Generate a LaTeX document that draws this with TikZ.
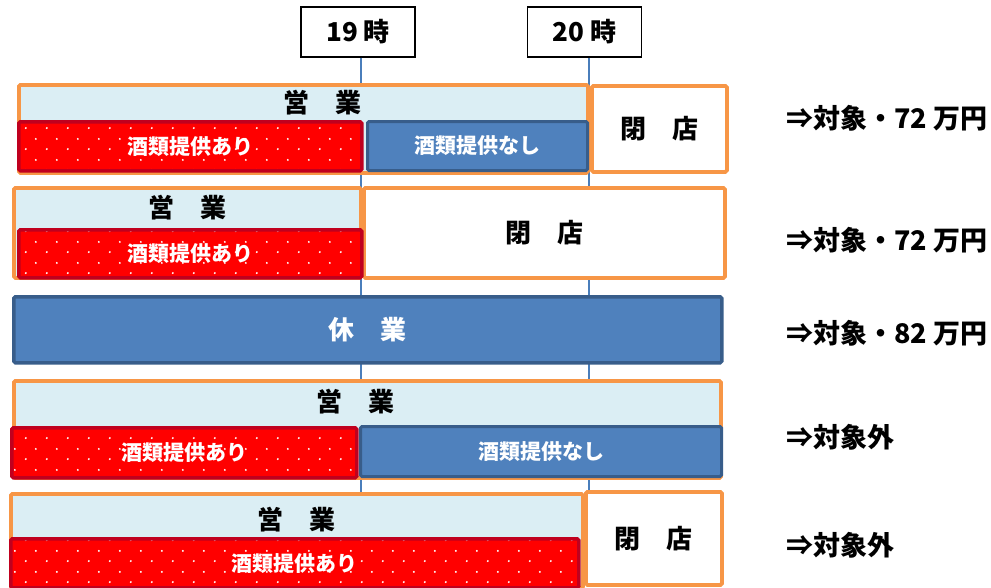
\documentclass[tikz,border=0pt]{standalone}
\usepackage{fontspec}
\setmainfont{Noto Sans CJK JP}
\usetikzlibrary{patterns.meta}
\definecolor{shoporange}{HTML}{F79646}
\definecolor{shopfill}{HTML}{DBEEF4}
\definecolor{winered}{HTML}{FF0000}
\definecolor{wineborder}{HTML}{C0001E}
\definecolor{restblue}{HTML}{4F81BD}
\definecolor{restborder}{HTML}{385D8A}
\definecolor{hourblue}{HTML}{4A7EBB}
\tikzdeclarepattern{
  name = winedots,
  type = uncolored,
  bounding box = {(0pt,0pt) and (21pt,20.6pt)},
  tile size = {(21pt,20.6pt)},
  code = {
    \fill (5pt,5pt) circle (1.1pt);
    \fill (15.5pt,15.3pt) circle (1.1pt);
  }
}
\tikzset{
  bigfont/.style = {font = \bfseries\fontsize{26}{26}\selectfont},
  smallfont/.style = {font = \bfseries\fontsize{21}{21}\selectfont},
  shapebox/.style = {rectangle, anchor = north west, inner sep = 0pt, rounded corners = 1.5pt},
  shopopen/.style = {shapebox, draw = shoporange, fill = shopfill, line width = 3.8pt},
  shopclosed/.style = {shapebox, bigfont, draw = shoporange, fill = white, line width = 3.8pt},
  wineon/.style = {shapebox, smallfont, draw = wineborder, line width = 3.5pt,
    preaction = {fill = winered}, preaction = {pattern = winedots, pattern color = white},
    text = white},
  wineoff/.style = {shapebox, smallfont, draw = restborder, fill = restblue, line width = 3pt, text = white},
  shoprest/.style = {shapebox, bigfont, draw = restborder, fill = restblue, line width = 3.5pt, text = white},
  hour/.style = {rectangle, bigfont, draw, line width = 1.2pt, minimum width = 114pt, minimum height = 50pt},
  hourline/.style = {draw = hourblue, line width = 1.2pt},
  caption/.style = {bigfont, inner sep = 0pt},
  verdict/.style = {font = \bfseries\fontsize{27}{27}\selectfont, anchor = west, inner sep = 0pt},
}
\begin{document}
\begin{tikzpicture}[x = 1pt, y = -1pt]
  \useasboundingbox (0,0) rectangle (991,587);
  % hours
  \node [hour] (t19) at (358,32) {19 時};
  \node [hour] (t20) at (584.5,32) {20 時};
  \coordinate (h19) at (361,587);
  \coordinate (h20) at (589,587);
  \draw [hourline] (t19.south -| h19) -- (h19);
  \draw [hourline] (t20.south -| h20) -- (h20);
  % row 1
  \node [shopopen, minimum width = 569pt, minimum height = 88pt] (open1) at (17,83) {};
  \node [shopclosed, minimum width = 135pt, minimum height = 86pt] (closed1) at (590,84) {閉　店};
  \node [wineon, minimum width = 343pt, minimum height = 49pt] (wine1) at (17,120) {酒類提供あり};
  \node [wineoff, minimum width = 220pt, minimum height = 49pt] (dry1) at (366,120) {酒類提供なし};
  \node [caption] (open1 label) at (322,103) {営　業};
  \node [verdict] (verdict1) at (786,118) {⇒対象・72 万円};
  % row 2
  \node [shopopen, minimum width = 347pt, minimum height = 90pt] (open2) at (12,186) {};
  \node [shopclosed, minimum width = 361pt, minimum height = 90pt] (closed2) at (362,186) {閉　店};
  \node [wineon, minimum width = 343pt, minimum height = 48pt] (wine2) at (17,228) {酒類提供あり};
  \node [caption] (open2 label) at (187,208) {営　業};
  \node [verdict] (verdict2) at (786,240) {⇒対象・72 万円};
  % row 3
  \node [shoprest, minimum width = 708pt, minimum height = 66pt] (rest3) at (12,295) {休　業};
  \node [verdict] (verdict3) at (786,333) {⇒対象・82 万円};
  % row 4
  \node [shopopen, minimum width = 707pt, minimum height = 97pt] (open4) at (12,379) {};
  \node [wineon, minimum width = 345pt, minimum height = 50pt] (wine4) at (10,426) {酒類提供あり};
  \node [wineoff, minimum width = 361pt, minimum height = 50pt] (dry4) at (359,425) {酒類提供なし};
  \node [caption] (open4 label) at (355,402) {営　業};
  \node [verdict] (verdict4) at (786,437) {⇒対象外};
  % row 5
  \node [shopopen, minimum width = 572pt, minimum height = 94pt] (open5) at (9,492) {};
  \node [shopclosed, minimum width = 136pt, minimum height = 93pt] (closed5) at (584,490) {閉　店};
  \node [wineon, minimum width = 568pt, minimum height = 49pt] (wine5) at (9,537) {酒類提供あり};
  \node [caption] (open5 label) at (296,520) {営　業};
  \node [verdict] (verdict5) at (786,545) {⇒対象外};
\end{tikzpicture}
\end{document}
